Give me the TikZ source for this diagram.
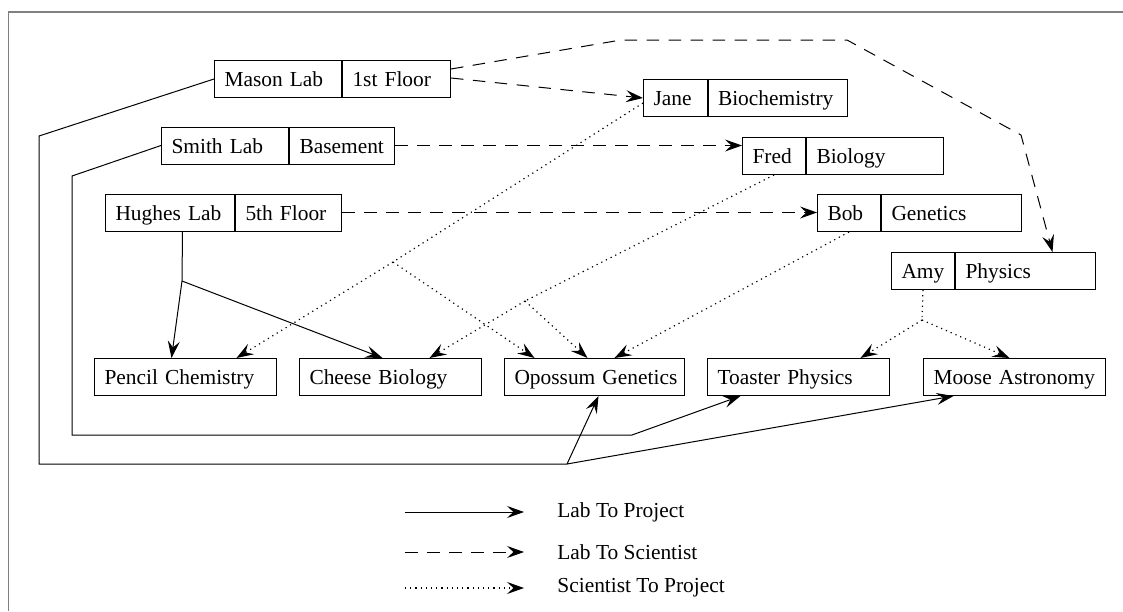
\documentclass[tikz,border=0pt]{standalone}
\usepackage{fontspec}
\setmainfont{Liberation Serif}
\usetikzlibrary{arrows.meta}
\begin{document}
\begin{tikzpicture}[x=0.5pt,y=-0.5pt,
  rec/.style={draw, anchor=north west, minimum height=18.5pt, inner xsep=5pt, inner ysep=0pt,
    align=left, text height=9pt, text depth=1.5pt, font=\fontsize{10.7}{13}\selectfont, line width=0.5pt},
  tip/.style={-{Stealth[length=8.5pt,width=6pt,inset=3.2pt]}},
  solidln/.style={line width=0.5pt, line join=miter},
  dashln/.style={line width=0.5pt, dash pattern=on 6.25pt off 4.75pt},
  dotln/.style={line width=0.6pt, dash pattern=on 0.6pt off 2pt},
  legtext/.style={anchor=west, inner sep=0pt, font=\fontsize{10.7}{13}\selectfont},
  frame/.style={draw=gray, line width=0.75pt}]
\useasboundingbox (0,0) rectangle (1123,611);
\draw[frame] (1123,12) -- (8.5,12) -- (8.5,611);

% Labs
\node[rec, text width=53.5pt] (masonA) at (214,60) {\mbox{Mason Lab}};
\node[rec, text width=44pt] (masonB) at (masonA.north east) {\mbox{1st Floor}};
\node[rec, text width=53.5pt] (smithA) at (161,126.5) {\mbox{Smith Lab}};
\node[rec, text width=42.5pt] (smithB) at (smithA.north east) {\mbox{Basement}};
\node[rec, text width=54.5pt] (hughesA) at (105,193.5) {\mbox{Hughes Lab}};
\node[rec, text width=43pt] (hughesB) at (hughesA.north east) {\mbox{5th Floor}};

% Scientists
\node[rec, text width=21.75pt] (janeA) at (643,79) {\mbox{Jane}};
\node[rec, text width=59.75pt] (janeB) at (janeA.north east) {\mbox{Biochemistry}};
\node[rec, text width=21.5pt] (fredA) at (742,137) {\mbox{Fred}};
\node[rec, text width=58.5pt] (fredB) at (fredA.north east) {\mbox{Biology}};
\node[rec, text width=21.5pt] (bobA) at (817,194) {\mbox{Bob}};
\node[rec, text width=60pt] (bobB) at (bobA.north east) {\mbox{Genetics}};
\node[rec, text width=21.5pt] (amyA) at (891,252) {\mbox{Amy}};
\node[rec, text width=60pt] (amyB) at (amyA.north east) {\mbox{Physics}};

% Projects
\node[rec, text width=81pt] (pencil) at (94,358) {\mbox{Pencil Chemistry}};
\node[rec, text width=81pt] (cheese) at (299,358) {\mbox{Cheese Biology}};
\node[rec, text width=80pt] (opossum) at (504,358) {\mbox{Opossum Genetics}};
\node[rec, text width=81pt] (toaster) at (707,358) {\mbox{Toaster Physics}};
\node[rec, text width=81pt] (moose) at (923,358) {\mbox{Moose Astronomy}};

% bend points and junctions
\coordinate (m1) at (39,136);
\coordinate (m2) at (39,464);
\coordinate (mj) at (567,464);
\coordinate (s1) at (72,176);
\coordinate (s2) at (72,435);
\coordinate (s3) at (632,435);
\coordinate (hj) at (182,281);
\coordinate (a1) at (621,40);
\coordinate (a2) at (847,40);
\coordinate (a3) at (1021,135);
\coordinate (jj) at (393,262);
\coordinate (fj) at (525,301);
\coordinate (yj) at (922,320);

% Lab to Project
\draw[solidln] (masonA.west) -- (m1) -- (m2) -- (mj);
\draw[solidln, tip] (mj) -- ([xshift=2pt]opossum.south);
\draw[solidln, tip] (mj) -- ([xshift=-30.5pt]moose.south);
\draw[solidln] (smithA.west) -- (s1) -- (s2) -- (s3);
\draw[solidln, tip] (s3) -- ([xshift=-29pt]toaster.south);
\draw[solidln] ([xshift=6.25pt]hughesA.south) -- (hj);
\draw[solidln, tip] (hj) -- ([xshift=-7pt]pencil.north);
\draw[solidln, tip] (hj) -- ([xshift=-4pt]cheese.north);

% Lab to Scientist
\draw[dashln, tip] ([yshift=0.5pt]masonB.east) -- (janeA.west);
\draw[dashln, tip] ([yshift=5pt]masonB.east) -- (a1) -- (a2) -- (a3) -- ([xshift=13.5pt]amyB.north);
\draw[dashln, tip] (smithB.east) -- (smithB.east -| fredA.west);
\draw[dashln, tip] (hughesB.east) -- (hughesB.east -| bobA.west);

% Scientist to Project
\draw[dotln] ([yshift=-2.5pt]janeA.west) -- (jj);
\draw[dotln, tip] (jj) -- ([xshift=25.5pt]pencil.north);
\draw[dotln, tip] (jj) -- ([xshift=-30pt]opossum.north);
\draw[dotln] (fredA.south) -- (fj);
\draw[dotln, tip] (fj) -- ([xshift=19.5pt]cheese.north);
\draw[dotln, tip] (fj) -- ([xshift=-3.5pt]opossum.north);
\draw[dotln, tip] (bobA.south) -- ([xshift=10pt]opossum.north);
\draw[dotln] (amyA.south) -- (yj);
\draw[dotln, tip] (yj) -- ([xshift=31pt]toaster.north);
\draw[dotln, tip] (yj) -- ([xshift=-2.5pt]moose.north);

% Legend
\coordinate (l1s) at (405,512); \coordinate (l1e) at (524,512);
\coordinate (l2s) at (405,552); \coordinate (l2e) at (524,552);
\coordinate (l3s) at (405,588); \coordinate (l3e) at (524,588);
\draw[solidln, tip] (l1s) -- (l1e);
\draw[dashln, tip] (l2s) -- (l2e);
\draw[dotln, tip] (l3s) -- (l3e);
\node[legtext] (t1) at (557,512) {Lab To Project};
\node[legtext] (t2) at (557,552) {Lab To Scientist};
\node[legtext] (t3) at (557,588) {Scientist To Project};
\end{tikzpicture}
\end{document}
